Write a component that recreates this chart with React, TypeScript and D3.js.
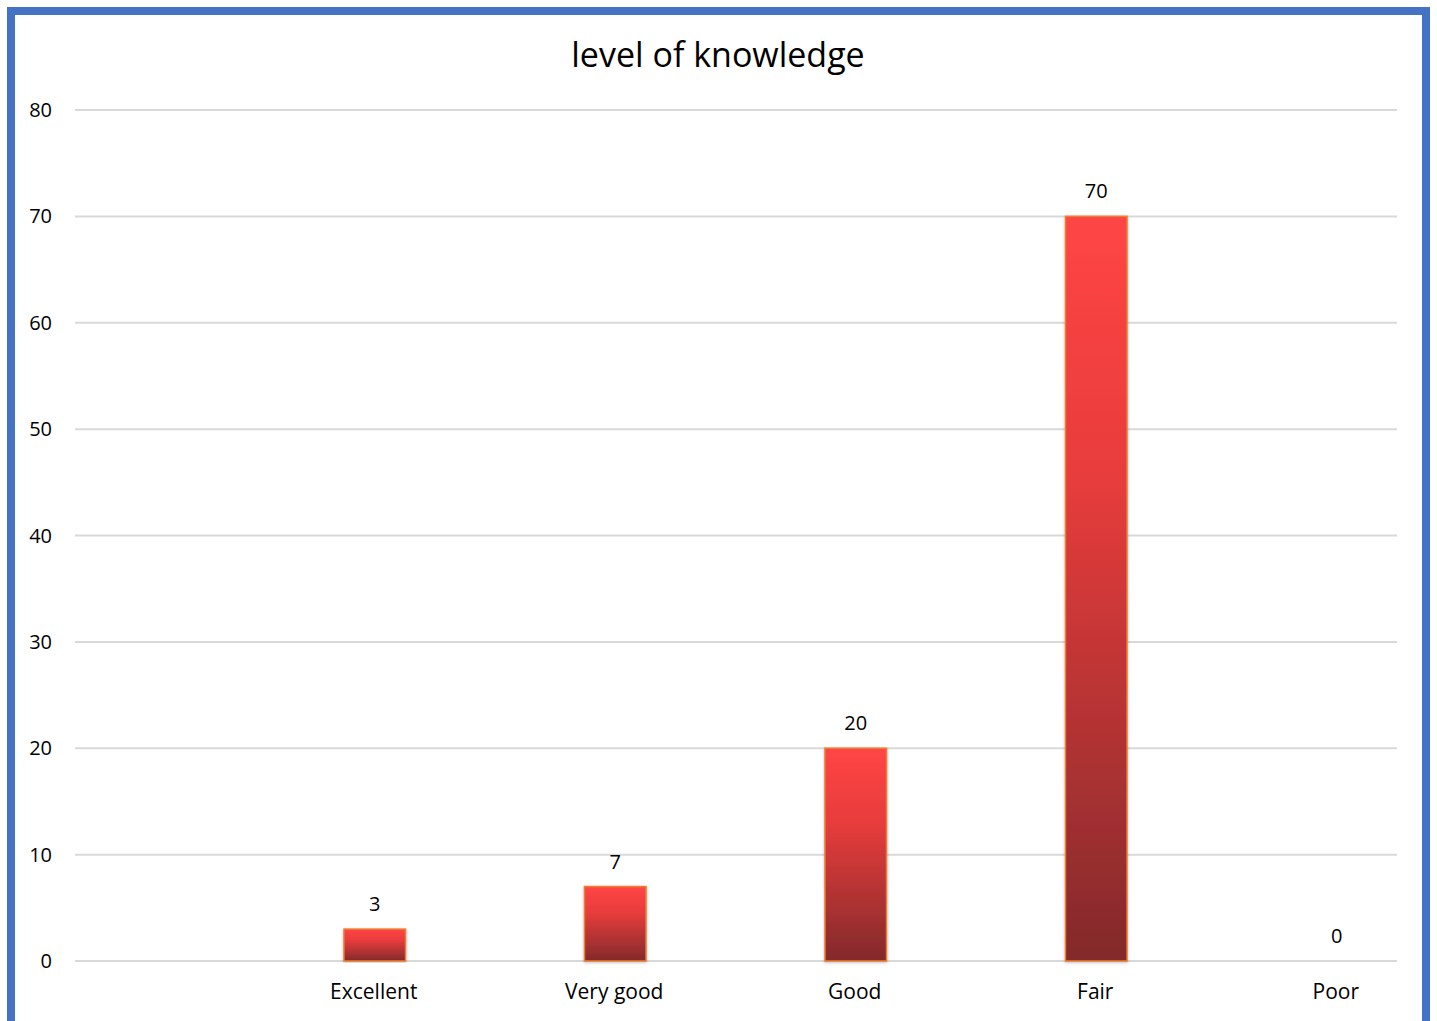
import * as d3 from 'd3';

// chart data
const categories = ['', 'Excellent', 'Very good', 'Good', 'Fair', 'Poor'];
const values: (number | null)[] = [null, 3, 7, 20, 70, 0];
const yTicks = [0, 10, 20, 30, 40, 50, 60, 70, 80];
const title = 'level of knowledge';

const W = 1437;
const H = 1021;
const FONT = '"Open Sans", "Noto Sans", sans-serif';

export default function App() {
  const plotLeft = 75;
  const plotRight = 1397;

  const x = d3.scaleBand<string>().domain(categories).range([14, 1457]).padding(0);
  const y = d3.scaleLinear().domain([0, 80]).range([961, 110]);
  const barW = x.bandwidth() * 0.256;

  return (
    <svg
      width={W}
      height={H}
      style={{ position: 'absolute', left: 0, top: 0, background: '#fff' }}
      fontFamily={FONT}
    >
      <defs>
        <linearGradient id="barFill" x1="0" y1="0" x2="0" y2="1">
          <stop offset="0%" stopColor="#ff4545" />
          <stop offset="35%" stopColor="#e83c3c" />
          <stop offset="100%" stopColor="#832a2b" />
        </linearGradient>
        <filter id="shadow" x="-20%" y="-5%" width="140%" height="110%">
          <feDropShadow dx="0" dy="1" stdDeviation="1.5" floodColor="#000" floodOpacity="0.25" />
        </filter>
      </defs>

      {/* outer frame */}
      <rect x={11} y={11} width={1415} height={1014} fill="#fff" stroke="#4472c4" strokeWidth={8} />

      <text x={718} y={67} textAnchor="middle" fontSize={34} fill="#000">
        {title}
      </text>

      {/* gridlines + y labels */}
      {yTicks.map((t) => (
        <g key={t}>
          <line x1={plotLeft} x2={plotRight} y1={y(t)} y2={y(t)} stroke="#d9d9d9" strokeWidth={2} />
          <text x={52} y={y(t)} dy="0.35em" textAnchor="end" fontSize={20} fill="#000">
            {t}
          </text>
        </g>
      ))}

      {/* bars */}
      {categories.map((c, i) => {
        const v = values[i];
        if (v === null) return null;
        const cx = (x(c) ?? 0) + x.bandwidth() / 2;
        return (
          <g key={c}>
            {v > 0 && (
              <rect
                x={cx - barW / 2}
                y={y(v)}
                width={barW}
                height={y(0) - y(v)}
                fill="url(#barFill)"
                stroke="#ed7d31"
                strokeWidth={1.5}
                filter="url(#shadow)"
              />
            )}
            <text x={cx} y={y(v) - 18} textAnchor="middle" fontSize={20} fill="#000">
              {v}
            </text>
          </g>
        );
      })}

      {/* category labels */}
      {categories.map((c) => (
        <text
          key={'l' + c}
          x={(x(c) ?? 0) + x.bandwidth() / 2 - 1}
          y={999}
          textAnchor="middle"
          fontSize={21}
          fill="#000"
        >
          {c}
        </text>
      ))}
    </svg>
  );
}
